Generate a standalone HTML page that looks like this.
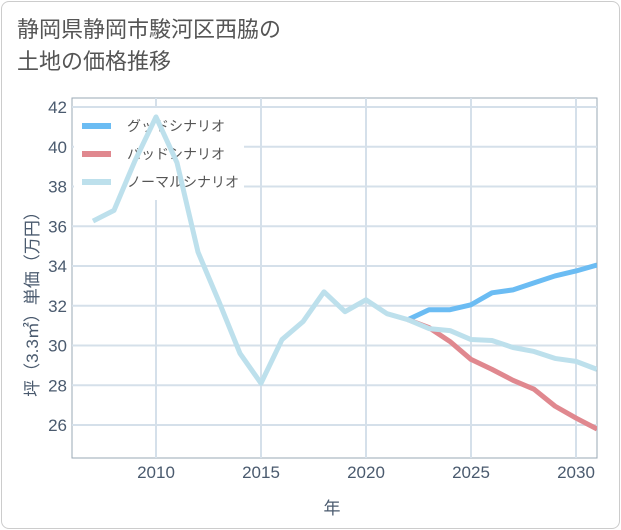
<!DOCTYPE html>
<html><head><meta charset="utf-8"><style>
body{margin:0;background:#fff;font-family:"Liberation Sans","Noto Sans CJK JP",sans-serif}
#card{position:absolute;left:1px;top:1px;width:617px;height:526px;border:1px solid #ccc;border-radius:8px;background:#fff}
#title{position:absolute;left:17px;top:14px;font-size:22px;line-height:32px;color:#555}
svg{position:absolute;left:0;top:0}
</style></head><body>
<div id="card"></div>
<div id="title">静岡県静岡市駿河区西脇の<br>土地の価格推移</div>
<svg id="chart" width="621" height="530"></svg>
<script>
const years=[2007,2008,2009,2010,2011,2012,2013,2014,2015,2016,2017,2018,2019,2020,2021,2022,2023,2024,2025,2026,2027,2028,2029,2030,2031];
const normal=[36.26,36.8,39.3,41.5,39.2,34.7,32.2,29.6,28.1,30.3,31.2,32.7,31.7,32.3,31.6,31.3,30.85,30.75,30.3,30.25,29.9,29.7,29.35,29.2,28.8];
const goodYears=[2022,2023,2024,2025,2026,2027,2028,2029,2030,2031];
const good=[31.3,31.8,31.8,32.05,32.65,32.8,33.15,33.5,33.75,34.05];
const bad=[31.3,30.9,30.2,29.3,28.8,28.25,27.8,26.95,26.35,25.8];
const xTicks=[2010,2015,2020,2025,2030];
const yTicks=[26,28,30,32,34,36,38,40,42];
const L=72,R=597,T=98,B=458;
const X=y=>L+(y-2006)*(R-L)/25;
const Y=v=>107+(42-v)*19.875;
const NS='http://www.w3.org/2000/svg';
const svg=document.getElementById('chart');
function mk(t,a,p){const e=document.createElementNS(NS,t);for(const k in a)e.setAttribute(k,a[k]);(p||svg).appendChild(e);return e;}
const defs=mk('defs',{});const cp=mk('clipPath',{id:'c'},defs);mk('rect',{x:L,y:T,width:R-L,height:B-T},cp);
mk('rect',{x:L,y:T,width:R-L,height:B-T,fill:'#fff',stroke:'#9aa8b4','stroke-width':1});
for(const t of yTicks){const g=mk('line',{x1:L,x2:R,y1:Y(t),y2:Y(t),stroke:'#d5e0ea','stroke-width':2});

const tx=mk('text',{x:L-5,y:Y(t)+6,'text-anchor':'end','font-size':17,fill:'#4a5a6e'});tx.textContent=t;
}
for(const t of xTicks){const g=mk('line',{x1:X(t),x2:X(t),y1:T,y2:B,stroke:'#d5e0ea','stroke-width':2});

const tx=mk('text',{x:X(t),y:478,'text-anchor':'middle','font-size':17,fill:'#4a5a6e'});tx.textContent=t;
}
const lg=mk('rect',{x:74,y:108,width:170,height:92,fill:'#fff'});
[['グッドシナリオ','#6bbcf3'],['バッドシナリオ','#e0888f'],['ノーマルシナリオ','#bde0ec']].forEach((d,i)=>{
const y=126+i*28;const l=mk('line',{x1:82,x2:111,y1:y,y2:y,stroke:d[1],'stroke-width':6});

const t=mk('text',{x:127,y:y+5,'font-size':14,fill:'#555'});t.textContent=d[0];
});
function line(xs,vs,c,n){const p=mk('polyline',{points:xs.map((y,i)=>X(y)+','+Y(vs[i])).join(' '),fill:'none',stroke:c,'stroke-width':5,'stroke-linejoin':'round','clip-path':'url(#c)'});
}
line(goodYears,good,'#6bbcf3','good-scenario-line');
line(goodYears,bad,'#e0888f','bad-scenario-line');
line(years,normal,'#bde0ec','normal-scenario-line');
const xt=mk('text',{x:332,y:514,'text-anchor':'middle','font-size':17,fill:'#4a5a6e'});xt.textContent='年';

const yt=mk('text',{x:0,y:0,transform:'translate(38,300) rotate(-90)','text-anchor':'middle','font-size':17,fill:'#4a5a6e'});yt.textContent='坪（3.3㎡）単価（万円）';

</script>
</body></html>
